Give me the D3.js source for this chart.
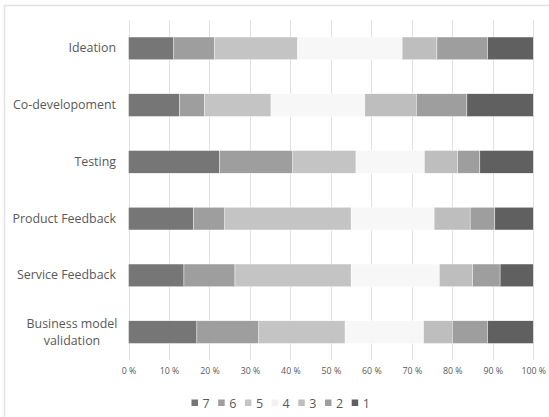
<!DOCTYPE html>
<html><head><meta charset="utf-8">
<script src="https://cdn.jsdelivr.net/npm/d3@7"></script>
<style>body{margin:0;background:#fff}svg{display:block}text{font-family:"Open Sans",sans-serif;fill:#595959}</style>
</head><body><svg id="c" width="549" height="417"></svg>
<script>
const categories = ["Ideation","Co-developoment","Testing","Product Feedback","Service Feedback","Business model validation"];
const seriesNames = ["7","6","5","4","3","2","1"];
const s7 = [11.2,12.6,22.5,16.1,13.7,16.9];
const s6 = [10.1,6.2,18.1,7.7,12.6,15.3];
const s5 = [20.5,16.4,15.6,31.2,28.7,21.3];
const s4 = [25.8,23.2,16.9,20.5,21.8,19.4];
const s3 = [8.6,12.7,8.2,8.9,8.2,7.1];
const s2 = [12.5,12.5,5.5,6.1,6.8,8.7];
const s1 = [11.3,16.4,13.2,9.5,8.2,11.3];
const tickValues = [0,10,20,30,40,50,60,70,80,90,100];
const colors = ["#767676","#9e9e9e","#c4c4c4","#f7f7f7","#bebebe","#9e9e9e","#606060"];

const svg = d3.select("#c");
const rows = categories.map((c,i)=>{
  const o={cat:c};
  [s7,s6,s5,s4,s3,s2,s1].forEach((s,j)=>o[seriesNames[j]]=s[i]);
  return o;
});
const stack = d3.stack().keys(seriesNames).offset(d3.stackOffsetExpand)(rows);

const x = d3.scaleLinear().domain([0,1]).range([128.5,533.3]);
const y = d3.scaleBand().domain(categories).range([20,360.5]).paddingInner(0.6).paddingOuter(0.3);

// frame
svg.append("path").attr("d","M4.5,417V5.5H549").attr("fill","none").attr("stroke","#e3e3e3").attr("stroke-width",1.5);

// gridlines
svg.append("g").selectAll("line").data(tickValues).join("line")
  .attr("x1",d=>Math.round(x(d/100))+0.5).attr("x2",d=>Math.round(x(d/100))+0.5)
  .attr("y1",20).attr("y2",360).attr("stroke","#e2e2e2").attr("stroke-width",1);

// bars
svg.append("g").selectAll("g").data(stack).join("g")
  .attr("fill",(d,i)=>colors[i])
  .selectAll("rect").data(d=>d).join("rect")
  .attr("x",d=>x(d[0])).attr("width",d=>x(d[1])-x(d[0]))
  .attr("y",d=>y(d.data.cat)).attr("height",y.bandwidth())
  .attr("stroke","#ffffff").attr("stroke-width",0.4);

// x axis labels
const xAxis = d3.axisBottom(x).tickValues(tickValues.map(v=>v/100)).tickFormat(d=>Math.round(d*100)+" %").tickSize(0).tickPadding(0);
const gx = svg.append("g").attr("transform","translate(0,368)").call(xAxis);
gx.select(".domain").remove();
gx.selectAll("text").attr("font-size","8.8px").attr("fill","#595959").style("font-family","'Open Sans',sans-serif");

// y labels
const yAxis = d3.axisLeft(y).tickSize(0).tickPadding(0);
const gy = svg.append("g").attr("transform","translate(116,0)").call(yAxis);
gy.select(".domain").remove();
gy.selectAll("text").attr("font-size","12.4px").attr("fill","#595959").style("font-family","'Open Sans',sans-serif")
  .each(function(d){
    if(d==="Business model validation"){
      const t=d3.select(this); t.text(null).attr("text-anchor","middle");
      t.append("tspan").attr("x",-44).attr("dy","-0.3em").text("Business model");
      t.append("tspan").attr("x",-44).attr("dy","1.3em").text("validation");
    }
  });

// legend
const lg = svg.append("g").attr("transform","translate(191.5,403)");
const item = lg.selectAll("g").data(seriesNames).join("g").attr("transform",(d,i)=>`translate(${i*26.7},0)`);
item.append("rect").attr("x",0).attr("y",-3.5).attr("width",6.5).attr("height",6.5).attr("fill",(d,i)=>i===3?"#f2f2f2":colors[i]);
item.append("text").attr("x",11).attr("y",0).attr("dy","0.36em").attr("font-size","12.5px").text(d=>d);
</script></body></html>
